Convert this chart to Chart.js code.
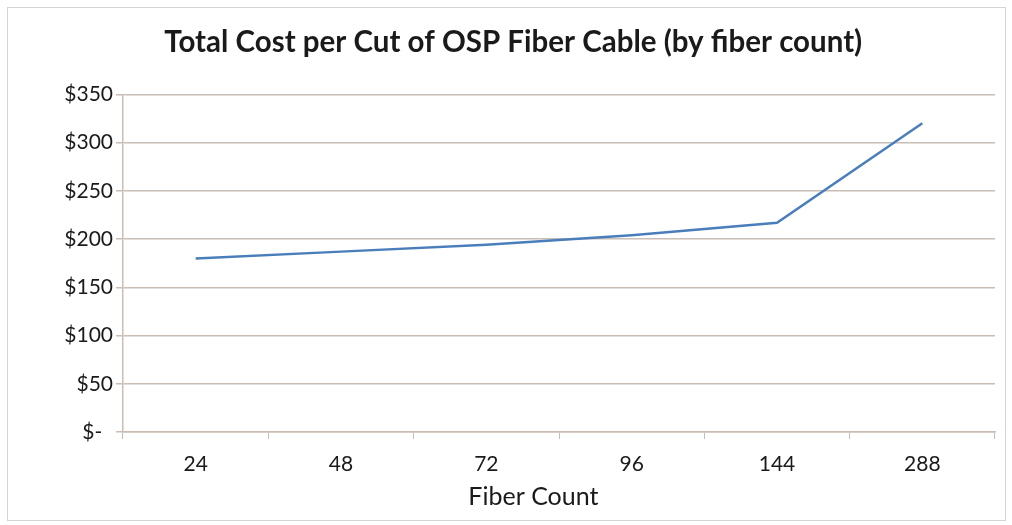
<!DOCTYPE html>
<html>
<head>
<meta charset="utf-8">
<script src="https://cdn.jsdelivr.net/npm/chart.js@4"></script>
<style>
  html, body { margin: 0; padding: 0; background: #fff; }
  #wrap { position: relative; width: 1012px; height: 525px; }
  #frame { position: absolute; left: 7px; top: 7px; width: 997px; height: 512px; border: 1px solid #d4d4d4; }
  #chart { position: absolute; left: 0; top: 0; }
</style>
</head>
<body>
<div id="wrap">
  <div id="frame"></div>
  <canvas id="chart" width="1012" height="525"></canvas>
</div>
<script>
// fiber counts and cost per cut
var fiberCounts = ['24', '48', '72', '96', '144', '288'];
var costPerCut = [180, 187, 194, 204, 217, 320];
var yTicks = [0, 50, 100, 150, 200, 250, 300, 350];

var gridColor = '#c9bdb6';
var textColor = '#1a1a1a';
var fontFamily = 'Lato, "Open Sans", sans-serif';

var ctx = document.getElementById('chart');
new Chart(ctx, {
  type: 'line',
  data: {
    labels: fiberCounts,
    datasets: [{
      label: 'Total Cost per Cut',
      data: costPerCut,
      borderColor: '#4a7ebb',
      borderWidth: 2.5,
      pointRadius: 0,
      tension: 0,
      fill: false
    }]
  },
  options: {
    responsive: false,
    animation: false,
    layout: { padding: { top: 0, right: 17, bottom: 0, left: 10 } },
    plugins: {
      legend: { display: false },
      tooltip: { enabled: false },
      title: {
        display: true,
        // leading spaces nudge the centred title to the right
        text: '   Total Cost per Cut of OSP Fiber Cable (by fiber count)',
        color: textColor,
        font: { family: fontFamily, size: 29.5, weight: 'bold' },
        padding: { top: 25, bottom: 34 }
      }
    },
    scales: {
      x: {
        offset: true,
        grid: {
          offset: true,
          drawOnChartArea: false,
          color: gridColor,
          tickLength: 7,
          tickColor: gridColor
        },
        border: { color: gridColor, width: 1.5 },
        ticks: {
          color: textColor,
          font: { family: fontFamily, size: 21 },
          padding: 13
        },
        title: {
          display: true,
          // trailing spaces pull the centred title a little to the left
          text: 'Fiber Count        ',
          color: textColor,
          font: { family: fontFamily, size: 25 },
          padding: { top: 0, bottom: 13 }
        },
        afterFit: function (scale) { scale.height = 93; }
      },
      y: {
        min: 0,
        max: 350,
        afterBuildTicks: function (scale) {
          scale.ticks = yTicks.map(function (v) { return { value: v }; });
        },
        grid: {
          color: gridColor,
          lineWidth: 1.5,
          tickLength: 7,
          tickColor: gridColor
        },
        border: { color: gridColor, width: 1.5 },
        ticks: {
          color: textColor,
          font: { family: fontFamily, size: 21 },
          padding: 3,
          callback: function (v) { return v === 0 ? '$-  ' : '$' + v; }
        },
        afterFit: function (scale) { scale.width = 113; }
      }
    }
  }
});
</script>
</body>
</html>
